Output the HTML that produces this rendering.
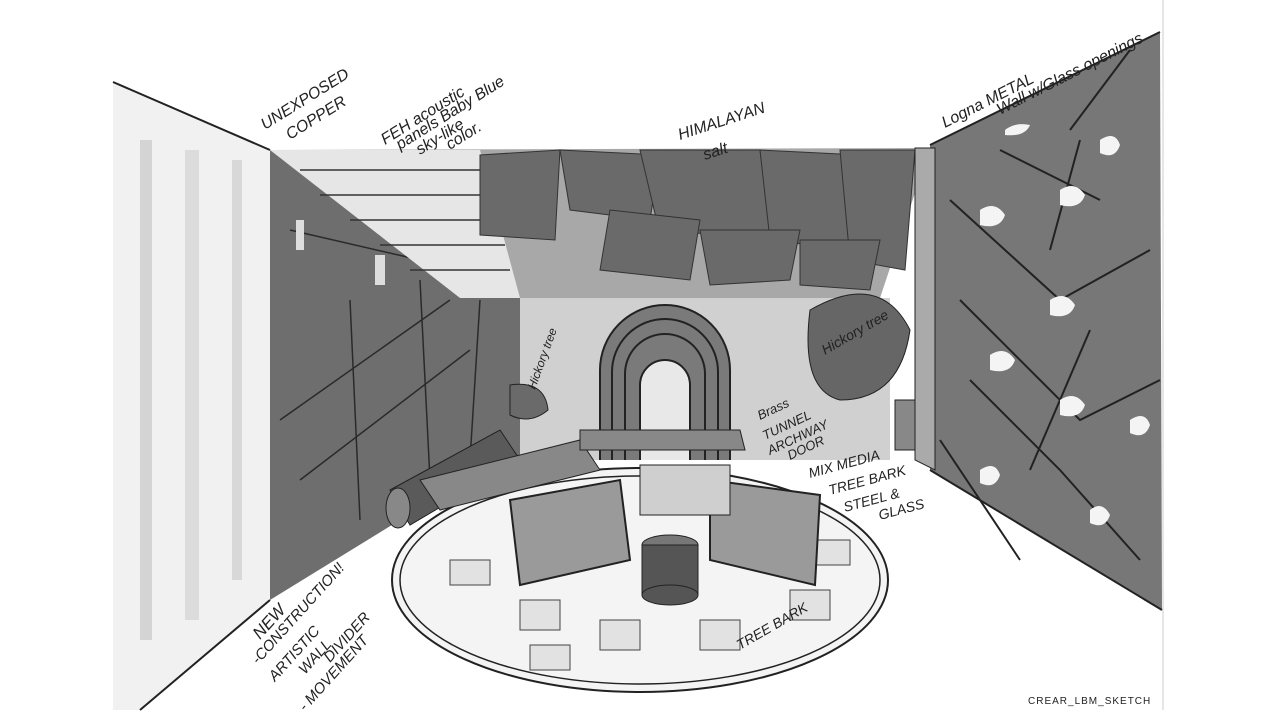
<!DOCTYPE html>
<html><head><meta charset="utf-8"><style>
html,body{margin:0;padding:0;background:#fff;width:1280px;height:720px;overflow:hidden}
svg{display:block}
text{font-family:"Liberation Sans",sans-serif;fill:#222}
</style></head><body>
<svg width="1280" height="720" viewBox="0 0 1280 720" xmlns="http://www.w3.org/2000/svg">
<rect width="1280" height="720" fill="#fff"/>
<polygon points="113,82 270,150 270,600 140,710 113,710" fill="#f1f1f1"/>
<rect x="140" y="140" width="12" height="500" fill="#d4d4d4"/>
<rect x="185" y="150" width="14" height="470" fill="#dcdcdc"/>
<rect x="232" y="160" width="10" height="420" fill="#d8d8d8"/>
<line x1="113" y1="82" x2="270" y2="150" stroke="#222" stroke-width="2"/>
<line x1="140" y1="710" x2="270" y2="600" stroke="#222" stroke-width="2"/>
<polygon points="270,150 520,298 520,470 400,520 270,600" fill="#6e6e6e"/>
<g stroke="#2a2a2a" stroke-width="1.5" fill="none">
<path d="M280,420 L450,300 M300,480 L470,350 M350,300 L360,520 M420,280 L430,480 M480,300 L470,460 M290,230 L420,260"/>
</g>
<rect x="296" y="220" width="8" height="30" fill="#ddd"/>
<rect x="375" y="255" width="10" height="30" fill="#ddd"/>
<polygon points="390,490 500,430 520,460 410,525" fill="#5a5a5a" stroke="#222"/>
<ellipse cx="398" cy="508" rx="12" ry="20" fill="#888" stroke="#222"/>
<polygon points="270,150 930,148 880,298 520,298" fill="#a8a8a8"/>
<polygon points="270,150 480,150 520,298 460,298" fill="#e6e6e6"/>
<g stroke="#333" stroke-width="1.5">
<line x1="300" y1="170" x2="480" y2="170"/><line x1="320" y1="195" x2="490" y2="195"/>
<line x1="350" y1="220" x2="495" y2="220"/><line x1="380" y1="245" x2="505" y2="245"/>
<line x1="410" y1="270" x2="510" y2="270"/>
</g>
<g fill="#6a6a6a" stroke="#333">
<polygon points="480,155 560,150 555,240 480,235"/>
<polygon points="560,150 660,155 650,220 570,210"/>
<polygon points="640,150 760,150 770,230 660,235"/>
<polygon points="760,150 860,155 850,250 770,240"/>
<polygon points="840,150 915,150 905,270 850,260"/>
<polygon points="610,210 700,220 690,280 600,270"/>
<polygon points="700,230 800,230 790,280 710,285"/>
<polygon points="800,240 880,240 870,290 800,285"/>
</g>
<rect x="520" y="298" width="370" height="162" fill="#d0d0d0"/>
<path d="M600,460 L600,370 A65,65 0 0 1 730,370 L730,460" fill="#7a7a7a" stroke="#222" stroke-width="2"/>
<path d="M612,460 L612,372 A53,53 0 0 1 718,372 L718,460" fill="none" stroke="#222" stroke-width="2"/>
<path d="M625,460 L625,374 A40,40 0 0 1 705,374 L705,460" fill="none" stroke="#222" stroke-width="2"/>
<path d="M640,460 L640,385 A25,25 0 0 1 690,385 L690,460" fill="#e8e8e8" stroke="#222" stroke-width="2"/>
<path d="M810,310 Q880,270 910,330 Q900,400 840,400 Q800,390 810,310Z" fill="#666" stroke="#222"/>
<path d="M510,385 Q545,380 548,410 Q530,425 510,415Z" fill="#6a6a6a" stroke="#222"/>
<rect x="895" y="400" width="35" height="50" fill="#888" stroke="#222"/>
<!-- right wall -->
<polygon points="930,145 1160,32 1162,610 930,470" fill="#777"/>
<polygon points="915,148 935,148 935,470 915,460" fill="#aaa" stroke="#222"/>
<line x1="930" y1="145" x2="1160" y2="32" stroke="#222" stroke-width="2"/>
<g stroke="#222" stroke-width="2" fill="none">
<path d="M950,200 L1060,300 L1150,250 M960,300 L1080,420 L1160,380 M970,380 L1060,470 L1140,560 M1000,150 L1100,200 M1080,140 L1050,250 M940,440 L1020,560 M1090,330 L1030,470 M1130,50 L1070,130"/>
</g>
<g fill="#f4f4f4">
<path d="M980,210 q15,-10 25,5 q-5,15 -25,10z"/><path d="M1060,190 q15,-10 25,5 q-5,15 -25,10z"/>
<path d="M1100,140 q15,-10 20,5 q-5,15 -20,8z"/><path d="M990,355 q15,-10 25,5 q-5,15 -25,10z"/>
<path d="M1050,300 q15,-10 25,5 q-5,15 -25,10z"/><path d="M1060,400 q15,-10 25,5 q-5,15 -25,10z"/>
<path d="M1130,420 q15,-10 20,5 q-5,15 -20,8z"/><path d="M980,470 q15,-10 20,5 q-5,15 -20,8z"/>
<path d="M1090,510 q12,-10 20,5 q-5,15 -20,8z"/><path d="M1005,130 q10,-8 25,-5 q-5,12 -25,10z"/>
</g>
<line x1="930" y1="470" x2="1162" y2="610" stroke="#222" stroke-width="2"/>
<ellipse cx="640" cy="580" rx="248" ry="112" fill="#f4f4f4" stroke="#222" stroke-width="2"/>
<ellipse cx="640" cy="580" rx="240" ry="104" fill="none" stroke="#222" stroke-width="1.5"/>
<g fill="#e2e2e2" stroke="#444">
<rect x="450" y="560" width="40" height="25"/><rect x="520" y="600" width="40" height="30"/>
<rect x="600" y="620" width="40" height="30"/><rect x="700" y="620" width="40" height="30"/>
<rect x="790" y="590" width="40" height="30"/><rect x="810" y="540" width="40" height="25"/>
<rect x="530" y="645" width="40" height="25"/>
</g>
<polygon points="420,480 580,440 600,470 440,510" fill="#888" stroke="#222"/>
<polygon points="580,430 740,430 745,450 580,450" fill="#888" stroke="#222"/>
<polygon points="510,500 620,480 630,560 520,585" fill="#9a9a9a" stroke="#222" stroke-width="2"/>
<polygon points="710,480 820,495 815,585 710,560" fill="#9a9a9a" stroke="#222" stroke-width="2"/>
<rect x="640" y="465" width="90" height="50" fill="#cfcfcf" stroke="#222"/>
<ellipse cx="670" cy="545" rx="28" ry="10" fill="#777" stroke="#222"/>
<rect x="642" y="545" width="56" height="50" fill="#555" stroke="#222"/>
<ellipse cx="670" cy="595" rx="28" ry="10" fill="#555" stroke="#222"/>
<g font-size="16" font-style="italic">
<text x="265" y="130" transform="rotate(-32 265 130)">UNEXPOSED</text>
<text x="290" y="140" transform="rotate(-32 290 140)">COPPER</text>
<text x="385" y="145" transform="rotate(-32 385 145)">FEH acoustic</text>
<text x="400" y="150" transform="rotate(-32 400 150)">panels Baby Blue</text>
<text x="420" y="155" transform="rotate(-32 420 155)">sky-like</text>
<text x="450" y="150" transform="rotate(-32 450 150)">color.</text>
<text x="680" y="140" transform="rotate(-18 680 140)">HIMALAYAN</text>
<text x="705" y="160" transform="rotate(-18 705 160)">salt</text>
<text x="945" y="128" transform="rotate(-27 945 128)">Logna METAL</text>
<text x="1000" y="115" transform="rotate(-27 1000 115)">Wall w/Glass openings</text>
<text x="535" y="390" font-size="12" transform="rotate(-70 535 390)">Hickory tree</text>
<text x="825" y="355" font-size="14" transform="rotate(-30 825 355)">Hickory tree</text>
<text x="760" y="420" font-size="13" transform="rotate(-25 760 420)">Brass</text>
<text x="765" y="440" font-size="13" transform="rotate(-25 765 440)">TUNNEL</text>
<text x="770" y="455" font-size="13" transform="rotate(-25 770 455)">ARCHWAY</text>
<text x="790" y="460" font-size="13" transform="rotate(-25 790 460)">DOOR</text>
<text x="810" y="478" font-size="14" transform="rotate(-15 810 478)">MIX MEDIA</text>
<text x="830" y="495" font-size="14" transform="rotate(-15 830 495)">TREE BARK</text>
<text x="845" y="512" font-size="14" transform="rotate(-15 845 512)">STEEL &amp;</text>
<text x="880" y="520" font-size="14" transform="rotate(-15 880 520)">GLASS</text>
<text x="740" y="650" font-size="14" transform="rotate(-30 740 650)">TREE BARK</text>
<text x="260" y="640" font-size="17" transform="rotate(-48 260 640)">NEW</text>
<text x="258" y="665" font-size="15" transform="rotate(-48 258 665)">-CONSTRUCTION!</text>
<text x="275" y="682" font-size="15" transform="rotate(-48 275 682)">ARTISTIC</text>
<text x="305" y="675" font-size="15" transform="rotate(-48 305 675)">WALL</text>
<text x="330" y="663" font-size="15" transform="rotate(-48 330 663)">DIVIDER</text>
<text x="305" y="712" font-size="15" transform="rotate(-48 305 712)">- MOVEMENT</text>
</g>
<text x="1028" y="704" font-size="10" letter-spacing="1" font-family="Liberation Serif">CREAR_LBM_SKETCH</text>
<line x1="1163" y1="0" x2="1163" y2="710" stroke="#ccc"/>
</svg>
</body></html>
